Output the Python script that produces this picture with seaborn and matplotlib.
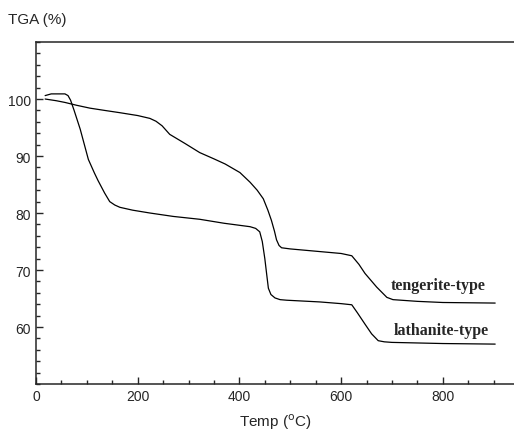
import numpy as np
import pandas as pd
import matplotlib
matplotlib.use('Agg')
import matplotlib.pyplot as plt
from matplotlib.ticker import MultipleLocator
import seaborn as sns

sns.set_style('ticks')
plt.rcParams['font.family'] = ['Liberation Sans', 'DejaVu Sans']

# ── data ─────────────────────────────────────────────────────────────────────
teng_temp = [18, 40, 57, 80, 106, 135, 165, 200, 224, 236, 248, 263, 293, 322,
             350, 372, 401, 421, 435, 447, 456, 463, 469, 473, 478, 483, 500,
             550, 600, 621, 635, 647, 670, 690, 702, 750, 800, 903]
teng_mass = [100.0, 99.7, 99.4, 98.9, 98.4, 98.0, 97.6, 97.1, 96.6, 96.1, 95.3,
             93.8, 92.2, 90.6, 89.5, 88.6, 87.1, 85.4, 84.0, 82.5, 80.5, 78.7,
             76.8, 75.3, 74.3, 73.9, 73.7, 73.3, 72.9, 72.5, 71.0, 69.4, 67.0,
             65.2, 64.8, 64.5, 64.3, 64.2]

lath_temp = [18, 30, 57, 63, 68, 75, 87, 103, 115, 122, 135, 145, 155, 165, 190,
             224, 270, 322, 370, 421, 432, 440, 445, 450, 454, 457, 462, 470, 480,
             493, 558, 600, 621, 632, 647, 660, 673, 685, 700, 800, 903]
lath_mass = [100.6, 100.9, 100.9, 100.6, 99.8, 98.0, 94.7, 89.4, 87.0, 85.7, 83.5,
             82.0, 81.4, 81.0, 80.5, 80.0, 79.4, 78.9, 78.2, 77.6, 77.3, 76.7,
             75.0, 72.0, 69.0, 66.8, 65.7, 65.1, 64.8, 64.7, 64.4, 64.1, 63.9, 62.5,
             60.5, 58.8, 57.6, 57.4, 57.3, 57.1, 57.0]

labels = ['tengerite-type', 'lathanite-type']
label_pos = [(698, 67.4), (703, 59.4)]

df = pd.concat([
    pd.DataFrame({'temp': teng_temp, 'mass': teng_mass, 'type': labels[0]}),
    pd.DataFrame({'temp': lath_temp, 'mass': lath_mass, 'type': labels[1]}),
])

fig = plt.figure(figsize=(5.14, 4.39), dpi=100)
ax = fig.add_axes([0.070, 0.123, 0.93, 0.779])
sns.lineplot(data=df, x='temp', y='mass', units='type', estimator=None,
             color='black', linewidth=0.9, ax=ax, legend=False)

for lab, (x, y) in zip(labels, label_pos):
    ax.text(x, y, lab, family='Liberation Serif', fontweight='bold', fontsize=11.5,
            va='center', ha='left')

ax.set_xlim(0, 940)
ax.set_ylim(50, 110)
ax.set_xticks([0, 200, 400, 600, 800])
ax.set_yticks([60, 70, 80, 90, 100])
ax.xaxis.set_minor_locator(MultipleLocator(50))
ax.yaxis.set_minor_locator(MultipleLocator(2))
ax.tick_params(which='both', direction='in', labelsize=10)
ax.tick_params(which='major', length=5, width=1)
ax.tick_params(which='minor', length=3, width=1)
ax.spines['right'].set_visible(False)
for s in ['left', 'bottom', 'top']:
    ax.spines[s].set_linewidth(1.1)

ax.set_xlabel('Temp ($^{\\rm o}$C)', fontsize=11, labelpad=6)
ax.set_ylabel('')
fig.text(0.016, 0.955, 'TGA (%)', fontsize=11, ha='left', va='center')

plt.savefig('out.png', dpi=100)
